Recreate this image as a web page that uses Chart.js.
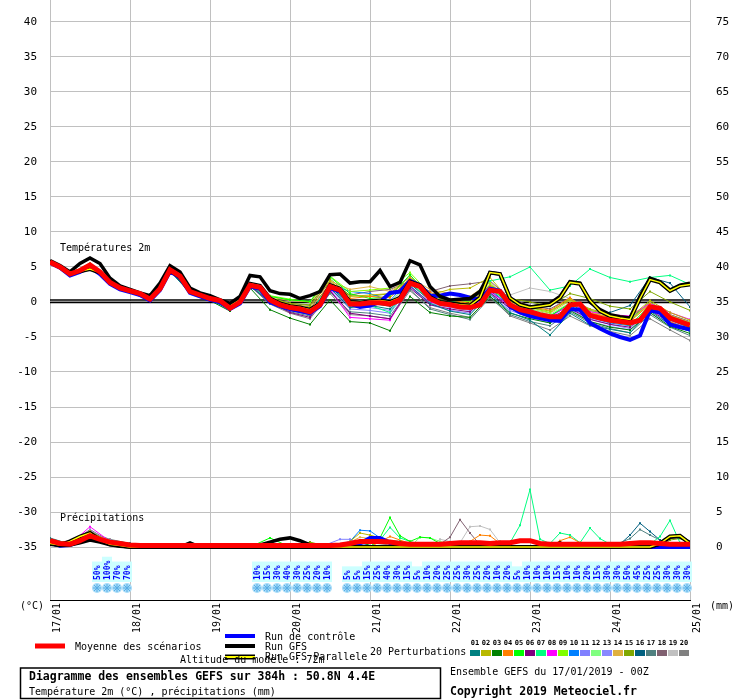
<!DOCTYPE html>
<html>
<head>
<meta charset="utf-8">
<script src="https://cdn.jsdelivr.net/npm/chart.js@4.4.0/dist/chart.umd.min.js"></script>
<style>
  html, body { margin: 0; padding: 0; background: #fff; }
  canvas { display: block; }
</style>
</head>
<body>
<canvas id="gefs" width="740" height="700"></canvas>
<script>
// tick labels
const dayLabels = ['17/01', '18/01', '19/01', '20/01', '21/01', '22/01', '23/01', '24/01', '25/01'];
const tempTicks = [-35, -30, -25, -20, -15, -10, -5, 0, 5, 10, 15, 20, 25, 30, 35, 40];
const precipTicks = [0, 5, 10, 15, 20, 25, 30, 35, 40, 45, 50, 55, 60, 65, 70, 75];

// 3-hourly runs (hour 0 .. 192)
const meanTemp = [5.7, 5.0, 4.0, 4.5, 5.3, 4.3, 2.8, 2.0, 1.6, 1.2,
  0.4, 1.9, 4.6, 3.7, 1.5, 1.0, 0.5, 0.2, -0.9, 0.0,
  2.4, 2.1, 0.3, -0.4, -0.8, -1.0, -1.4, -0.4, 2.2, 1.7,
  -0.3, -0.3, -0.1, -0.1, -0.3, 0.3, 2.7, 2.2, 0.5, -0.2,
  -0.4, -0.7, -0.8, -0.4, 1.7, 1.5, -0.4, -1.1, -1.4, -1.8,
  -2.1, -2.1, -0.4, -0.3, -1.9, -2.3, -2.6, -2.8, -3.0, -2.6,
  -0.7, -0.9, -2.3, -2.8, -3.3];
const gfsTemp = [5.9, 5.2, 4.3, 5.5, 6.3, 5.5, 3.4, 2.3, 1.8, 1.3,
  0.9, 2.7, 5.2, 4.3, 2.0, 1.3, 0.9, 0.3, -0.2, 0.8,
  3.8, 3.6, 1.6, 1.2, 1.1, 0.5, 0.9, 1.5, 3.9, 4.0,
  2.7, 2.9, 2.9, 4.5, 2.2, 2.8, 5.9, 5.3, 2.2, 0.8,
  0.3, 0.4, 0.5, 1.5, 4.2, 4.0, 0.5, -0.3, -0.7, -0.5,
  -0.2, 0.8, 2.9, 2.7, 0.0, -1.1, -1.8, -2.1, -2.3, 0.8,
  3.4, 2.9, 1.7, 2.4, 2.7];
const controlTemp = [5.6, 4.9, 3.8, 4.3, 5.0, 4.0, 2.6, 1.8, 1.4, 1.0,
  0.2, 1.7, 4.4, 3.5, 1.3, 0.8, 0.3, 0.0, -1.0, -0.2,
  2.2, 1.9, 0.0, -0.6, -1.0, -1.3, -1.6, -0.6, 2.0, 1.5,
  -0.3, -0.7, -0.5, 0.0, 1.3, 1.5, 3.0, 2.4, 0.9, 0.9,
  1.2, 1.0, 0.6, 0.4, 1.9, 1.6, -0.6, -1.5, -2.0, -2.3,
  -2.6, -2.7, -1.0, -1.1, -3.0, -3.8, -4.5, -5.0, -5.4, -4.8,
  -1.2, -1.5, -3.2, -3.6, -3.9];
const parallelTemp = [5.7, 5.0, 4.0, 4.4, 4.7, 4.2, 2.9, 2.1, 1.6, 1.2,
  0.5, 2.0, 4.5, 3.6, 1.5, 1.0, 0.5, 0.2, -0.6, 0.3,
  2.6, 2.3, 0.5, -0.2, -0.6, -0.8, -1.1, -0.2, 2.4, 1.9,
  0.0, -0.1, 0.1, 0.2, 0.0, 0.6, 2.9, 2.4, 0.7, 0.0,
  -0.2, -0.4, -0.5, 0.6, 4.2, 4.0, 0.6, -0.4, -0.8, -0.6,
  -0.4, 0.6, 2.8, 2.6, 0.2, -1.3, -2.0, -2.3, -2.5, 0.5,
  3.2, 2.8, 1.6, 2.3, 2.5];

const meanPrecip = [0.9, 0.5, 0.4, 0.9, 1.6, 1.1, 0.7, 0.5, 0.3, 0.2,
  0.2, 0.2, 0.2, 0.2, 0.2, 0.2, 0.2, 0.2, 0.2, 0.2,
  0.2, 0.2, 0.2, 0.2, 0.2, 0.2, 0.2, 0.2, 0.2, 0.3,
  0.5, 0.8, 0.8, 0.8, 0.7, 0.5, 0.4, 0.4, 0.4, 0.4,
  0.5, 0.6, 0.6, 0.6, 0.5, 0.6, 0.6, 0.9, 0.9, 0.5,
  0.4, 0.4, 0.4, 0.4, 0.4, 0.4, 0.4, 0.4, 0.5, 0.6,
  0.6, 0.5, 0.4, 0.4, 0.4];
const gfsPrecip = [0.4, 0.2, 0.3, 0.6, 1.0, 0.7, 0.3, 0.1, 0, 0,
  0, 0, 0, 0, 0.6, 0, 0, 0, 0, 0,
  0, 0.3, 0.7, 1.1, 1.3, 0.9, 0.3, 0, 0, 0,
  0, 0, 0, 0, 0, 0, 0, 0, 0, 0,
  0, 0, 0, 0, 0, 0, 0, 0, 0, 0,
  0, 0.6, 0, 0, 0, 0, 0, 0, 0, 0,
  0, 0.4, 1.4, 1.5, 0.6];
const controlPrecip = [0.6, 0.2, 0.3, 0.8, 1.4, 0.9, 0.5, 0.3, 0.1, 0,
  0, 0, 0, 0, 0, 0, 0, 0, 0, 0,
  0, 0, 0, 0, 0, 0, 0, 0, 0, 0,
  0, 0.5, 1.3, 1.3, 0.6, 0, 0, 0, 0, 0,
  0, 0, 0, 0, 0, 0, 0, 0, 0, 0,
  0, 0, 0, 0, 0, 0, 0, 0, 0, 0,
  0, 0, 0, 0, 0];
const parallelPrecip = [0.5, 0.3, 0.8, 1.5, 2.0, 1.0, 0.4, 0.2, 0, 0,
  0, 0, 0, 0, 0, 0, 0, 0, 0, 0,
  0, 0, 0, 0, 0, 0, 0, 0, 0, 0,
  0, 0, 0, 0, 0, 0, 0, 0, 0, 0,
  0, 0, 0, 0, 0, 0, 0, 0, 0, 0,
  0, 0, 0, 0, 0, 0, 0, 0, 0, 0,
  0, 0.5, 1.5, 1.6, 0.5];

// 20 perturbations, 6-hourly temperatures (hour 0 .. 192)
const tempP01 = [5.6,3.9,5.1,2.7,1.5,0.2,4.4,1.3,0.3,-1.1,2.3,0.0,-1.2,-1.8,2.0,-0.8,-0.5,-1.0,2.3,-0.2,-1.3,-1.8,1.2,-1.5,-2.6,-4.7,-1.6,-3.3,-3.9,-4.4,-1.3,-3.2,-4.2];
const tempP02 = [5.8,4.1,5.4,2.9,1.7,0.5,4.7,1.6,0.6,-0.6,2.6,0.6,-0.3,-0.7,3.0,0.8,1.0,1.2,3.2,1.0,1.8,2.0,3.5,0.2,-0.8,-1.3,0.3,-1.0,-1.8,-2.2,0.2,-1.5,-2.6];
const tempP03 = [5.7,4.0,5.2,2.6,1.4,0.2,4.5,1.3,0.2,-1.3,2.0,-1.1,-2.3,-3.2,0.3,-2.8,-3.0,-4.1,0.8,-1.5,-2.0,-2.2,0.8,-1.6,-2.4,-3.0,-1.2,-2.8,-3.6,-4.0,-1.5,-3.5,-4.5];
const tempP04 = [5.7,4.1,5.4,2.9,1.7,0.5,4.7,1.6,0.6,-0.8,2.5,0.5,-0.5,-1.0,2.6,0.5,0.8,0.6,3.4,1.4,0.3,-0.2,2.3,0.3,-0.6,-1.2,0.6,-1.6,-2.2,-2.8,-0.3,-2.8,-4.0];
const tempP05 = [5.8,4.0,5.5,2.9,1.7,0.5,4.8,1.7,0.7,-0.7,2.7,0.8,0.3,0.1,3.6,1.2,0.5,0.8,3.9,0.6,-0.2,-0.6,2.0,-0.3,-1.2,-2.0,-0.2,-2.0,-2.8,-3.3,-0.5,-2.5,-3.6];
const tempP06 = [5.6,3.9,5.2,2.7,1.5,0.3,4.5,1.4,0.4,-1.0,2.3,0.0,-1.5,-2.2,1.6,-1.6,-2.0,-2.4,2.0,-0.4,-1.0,-1.4,1.3,-0.9,-2.0,-2.6,-0.9,-2.5,-3.2,-3.6,-1.2,-2.9,-3.9];
const tempP07 = [5.7,4.0,5.3,2.8,1.6,0.4,4.6,1.5,0.5,-0.8,2.5,0.2,-1.0,-1.6,2.5,-0.5,-0.5,-1.5,2.8,0.2,0.0,0.5,3.0,3.6,5.0,1.7,2.3,4.7,3.5,2.9,3.5,3.8,2.5];
const tempP08 = [5.6,4.0,5.3,2.8,1.6,0.4,4.6,1.5,0.4,-1.0,2.3,0.1,-1.2,-1.8,1.8,-2.2,-2.4,-2.6,2.2,0.0,-0.6,-1.0,1.5,-0.6,-1.6,-2.2,-0.3,-1.4,-1.8,-2.0,-0.2,-1.5,-2.5];
const tempP09 = [5.8,4.1,5.5,3.0,1.8,0.6,4.8,1.7,0.7,-0.6,2.6,0.9,0.4,0.0,3.7,1.5,1.7,2.0,4.2,1.2,0.4,0.0,2.6,0.2,-0.8,-1.5,0.5,-1.2,-2.0,-2.6,0.0,-2.0,-3.0];
const tempP10 = [5.7,4.0,5.3,2.8,1.6,0.4,4.6,1.5,0.5,-0.9,2.4,0.5,-0.4,-0.9,2.5,1.5,1.2,0.2,3.3,0.6,-0.3,-0.8,1.8,-0.5,-1.4,-2.0,-0.5,-2.2,-3.0,-3.4,-0.9,-2.6,-3.7];
const tempP11 = [5.6,3.9,5.2,2.7,1.5,0.3,4.5,1.4,0.4,-1.0,2.3,0.2,-1.0,-1.8,1.8,-1.0,-1.2,-1.6,2.2,-0.4,-1.2,-1.6,1.0,-1.2,-2.2,-3.0,-1.0,-2.8,-3.5,-4.0,-1.6,-3.2,-4.2];
const tempP12 = [5.7,4.0,5.3,2.8,1.6,0.4,4.6,1.5,0.5,-0.9,2.4,0.4,-0.6,-1.0,2.4,0.0,0.3,0.0,2.9,0.4,-0.2,-0.6,2.0,-0.2,-1.0,-1.8,-0.1,-1.6,-2.3,-2.7,-0.4,-2.0,-3.0];
const tempP13 = [5.6,4.0,5.2,2.8,1.5,0.3,4.5,1.4,0.4,-1.0,2.3,0.0,-0.9,-1.5,2.0,-0.6,-0.8,-1.2,2.4,-0.2,-0.8,-1.2,1.4,-1.0,-1.8,-2.6,-0.8,-2.4,-3.2,-3.8,-1.0,-2.8,-3.8];
const tempP14 = [5.8,4.1,5.4,2.9,1.7,0.5,4.7,1.6,0.6,-0.7,2.6,0.7,0.2,0.0,3.0,1.8,2.2,1.5,3.5,1.8,1.2,0.8,2.8,0.0,-1.0,-1.6,0.2,-1.4,-2.2,-2.6,-0.2,-1.9,-2.9];
const tempP15 = [5.7,4.0,5.3,2.8,1.6,0.4,4.6,1.5,0.5,-0.8,2.5,0.6,-0.2,-0.4,3.3,0.9,0.8,1.2,3.6,0.8,0.2,-0.3,2.4,0.5,0.0,-0.6,1.2,0.5,-0.6,-1.0,1.5,0.0,-1.2];
const tempP16 = [5.7,4.0,5.3,2.8,1.6,0.4,4.6,1.5,0.5,-0.9,2.4,0.2,-0.8,-1.3,2.2,-0.4,-0.2,-0.6,2.6,0.2,-0.4,-0.9,1.6,-0.6,-1.6,-2.3,-0.8,-1.8,-1.5,-0.5,3.5,2.7,-0.7];
const tempP17 = [5.6,3.9,5.2,2.7,1.5,0.3,4.5,1.4,0.4,-1.0,2.3,-0.2,-1.4,-2.0,1.4,-1.4,-1.6,-2.0,1.8,-1.0,-1.8,-2.5,0.6,-1.8,-2.8,-3.4,-1.4,-3.0,-3.8,-4.4,-1.8,-3.6,-4.8];
const tempP18 = [5.7,4.0,5.3,2.8,1.6,0.4,4.6,1.5,0.5,-0.8,2.5,0.4,-0.2,-0.5,2.8,1.0,1.5,1.8,3.0,1.5,2.3,2.6,3.0,0.5,-0.5,-1.0,0.6,-1.2,-1.8,-2.4,0.0,-1.8,-2.8];
const tempP19 = [5.7,4.0,5.3,2.8,1.6,0.4,4.6,1.5,0.5,-0.9,2.4,0.3,-0.5,-1.0,2.4,0.0,0.2,-0.3,2.8,0.3,-0.2,-0.5,2.4,1.0,2.0,1.5,0.5,-1.0,-1.8,-2.2,-0.3,-1.8,-2.8];
const tempP20 = [5.6,3.9,5.2,2.7,1.5,0.3,4.5,1.4,0.4,-1.0,2.3,-0.3,-1.6,-2.4,1.2,-1.8,-2.0,-2.4,1.6,-0.8,-1.6,-2.2,0.8,-2.0,-3.0,-4.0,-2.0,-3.4,-4.2,-4.8,-2.4,-4.0,-5.5];

// perturbation precipitation, [hour, mm]
const precipP01 = [[0,1.2],[6,0.4],[12,1.8],[18,0.8],[24,0.4],[30,0],[90,0],[96,0.8],[102,0.5],[108,0],[192,0]];
const precipP02 = [[0,0.8],[6,0.6],[12,2.3],[18,0.6],[24,0.3],[30,0],[87,0],[90,0.8],[93,2.0],[96,1.7],[99,1.3],[105,0.5],[111,0],[192,0]];
const precipP03 = [[0,0.7],[6,0.3],[12,1.5],[18,0.7],[24,0.2],[30,0],[93,0],[99,1.0],[105,0.8],[111,0],[192,0]];
const precipP04 = [[0,0.9],[6,0.5],[12,2.0],[18,0.9],[24,0.4],[30,0],[96,0],[102,1.5],[108,0.5],[114,0],[123,0],[126,0.8],[129,1.7],[132,1.6],[135,0.5],[141,0],[150,0],[153,0.9],[156,1.4],[159,0.6],[165,0],[192,0]];
const precipP05 = [[0,1.0],[6,0.3],[12,1.7],[18,0.6],[24,0.3],[30,0],[60,0],[66,1.3],[72,0],[96,0],[99,1.3],[102,4.2],[105,1.6],[108,0.8],[111,1.4],[114,1.3],[117,0.5],[123,0],[192,0]];
const precipP06 = [[0,0.6],[6,0.4],[12,2.2],[18,0.7],[24,0.2],[30,0],[192,0]];
const precipP07 = [[0,0.8],[6,0.5],[12,1.6],[18,0.5],[24,0.3],[30,0],[96,0],[99,1.0],[102,2.8],[105,1.3],[108,0.8],[114,0],[132,0],[135,0.8],[138,0.6],[141,3.1],[144,8.2],[147,1.1],[150,0.5],[153,2.0],[156,1.7],[159,0.6],[162,2.7],[165,1.2],[168,0.4],[180,0.4],[183,1.5],[186,3.8],[189,0.6],[192,0.3]];
const precipP08 = [[0,0.7],[6,0.4],[12,2.9],[18,0.8],[24,0.3],[30,0],[192,0]];
const precipP09 = [[0,0.9],[6,0.6],[12,2.1],[18,0.7],[24,0.3],[30,0],[90,0],[93,1.0],[96,1.2],[102,0.6],[108,0],[192,0]];
const precipP10 = [[0,0.8],[6,0.3],[12,1.4],[18,0.8],[24,0.4],[30,0],[84,0],[90,0.8],[93,2.4],[96,2.3],[99,1.3],[105,0.5],[111,0],[192,0]];
const precipP11 = [[0,0.6],[6,0.4],[12,1.9],[18,1.0],[24,0.3],[30,0],[81,0],[87,1.1],[90,1.1],[93,0.5],[99,0],[192,0]];
const precipP12 = [[0,0.7],[6,0.5],[12,1.8],[18,0.6],[24,0.2],[30,0],[108,0],[111,1.4],[114,1.3],[117,0.8],[123,0],[192,0]];
const precipP13 = [[0,1.0],[6,0.4],[12,2.4],[18,0.7],[24,0.3],[30,0],[90,0],[96,0.9],[102,0.4],[108,0],[192,0]];
const precipP14 = [[0,0.9],[6,0.7],[12,2.2],[18,0.9],[24,0.4],[30,0],[87,0],[93,1.4],[96,1.2],[102,0.6],[108,0],[192,0]];
const precipP15 = [[0,0.8],[6,0.4],[12,1.7],[18,0.7],[24,0.3],[30,0],[72,0],[78,0.7],[84,0],[183,0],[186,1.0],[189,1.2],[192,0.8]];
const precipP16 = [[0,1.1],[6,0.3],[12,1.5],[18,0.9],[24,0.5],[30,0],[165,0],[171,0.4],[174,1.7],[177,3.4],[180,2.2],[183,1.0],[189,0],[192,0]];
const precipP17 = [[0,1.3],[6,0.4],[12,2.0],[18,1.0],[24,0.5],[30,0],[168,0],[174,1.2],[177,2.5],[180,1.7],[186,0.3],[192,0]];
const precipP18 = [[0,0.7],[6,0.5],[12,2.5],[18,0.8],[24,0.3],[30,0],[114,0],[117,0.4],[120,1.4],[123,3.9],[126,2.0],[129,0.3],[135,0],[192,0]];
const precipP19 = [[0,0.8],[6,0.4],[12,1.9],[18,0.6],[24,0.3],[30,0],[114,0],[117,1.1],[120,0.8],[123,0.6],[126,2.9],[129,3.0],[132,2.5],[135,0.6],[141,0],[192,0]];
const precipP20 = [[0,1.0],[6,0.3],[12,2.1],[18,1.1],[24,0.5],[30,0],[90,0],[96,0.6],[102,0.3],[108,0],[192,0]];

const memberColors = ['#008080', '#b8b800', '#008000', '#ff8000', '#00ff00', '#800080', '#00ff80', '#ff00ff', '#80ff00', '#0080ff',
  '#8080ff', '#80ff80', '#8888ff', '#e0b040', '#80a800', '#006080', '#508080', '#806070', '#c0c0c0', '#808080'];
const memberTemps = [tempP01, tempP02, tempP03, tempP04, tempP05, tempP06, tempP07, tempP08, tempP09, tempP10,
  tempP11, tempP12, tempP13, tempP14, tempP15, tempP16, tempP17, tempP18, tempP19, tempP20];
const memberPrecips = [precipP01, precipP02, precipP03, precipP04, precipP05, precipP06, precipP07, precipP08, precipP09, precipP10,
  precipP11, precipP12, precipP13, precipP14, precipP15, precipP16, precipP17, precipP18, precipP19, precipP20];

// snow probability labels (start hour, values every 3h)
const snowProbA = [50, 100, 70, 70];
const snowProbB = [10, 15, 30, 40, 30, 25, 20, 10];
const snowProbC = [5, 5, 15, 25, 40, 30, 15, 5, 10, 20, 25, 25, 30, 25, 20, 10, 20, 5, 10, 10,
  10, 15, 10, 10, 20, 15, 30, 30, 50, 45, 25, 25, 30, 30, 30];
const snowProbRuns = [[15, snowProbA], [63, snowProbB], [90, snowProbC]];

const FONT = 'DejaVu Sans Mono';
const series = (vals, step) => vals.map((v, i) => ({x: i * step, y: v}));
const pairs = list => list.map(([x, y]) => ({x, y}));

// lower order = drawn on top
const datasets = [];
function addLine(data, axis, color, width, order, pts) {
  datasets.push({
    data, yAxisID: axis, borderColor: color, borderWidth: width, order,
    pointRadius: pts ? 1.4 : 0, pointStyle: 'rect', pointBackgroundColor: color, pointBorderWidth: 0,
    tension: 0, fill: false
  });
}
[['y', meanTemp, parallelTemp, gfsTemp, controlTemp], ['y2', meanPrecip, parallelPrecip, gfsPrecip, controlPrecip]]
  .forEach(([axis, mean, par, gfs, ctl]) => {
    addLine(series(mean, 3), axis, '#ff0000', 5, 0);
    addLine(series(par, 3), axis, '#ffff00', 1.5, 1);
    addLine(series(par, 3), axis, '#000000', 4, 2);
    addLine(series(gfs, 3), axis, '#000000', 3.5, 3);
    addLine(series(ctl, 3), axis, '#0000ff', 4, 4);
  });
memberColors.forEach((c, i) => {
  addLine(series(memberTemps[i], 6), 'y', c, 1, 10 + i, true);
  addLine(pairs(memberPrecips[i]), 'y2', c, 1, 10 + i, true);
});

function text(ctx, str, x, y, font, color, align) {
  ctx.font = font;
  ctx.fillStyle = color || '#000';
  ctx.textAlign = align || 'left';
  ctx.textBaseline = 'middle';
  ctx.fillText(str, x, y);
}
function seg(ctx, x1, x2, y, color, w) {
  ctx.strokeStyle = color;
  ctx.lineWidth = w;
  ctx.beginPath();
  ctx.moveTo(x1, y);
  ctx.lineTo(x2, y);
  ctx.stroke();
}
// no extra room above/below the plot for half tick labels
const noPad = s => { s.paddingTop = 0; s.paddingBottom = 0; s.paddingLeft = 0; s.paddingRight = 0; };

const decor = {
  id: 'decor',
  beforeDatasetsDraw(chart) {
    const {ctx, chartArea: a, scales} = chart;
    const y0 = Math.round(scales.y.getPixelForValue(0));
    ctx.save();
    seg(ctx, a.left, a.right, y0 - 2, '#000', 1.3);
    seg(ctx, a.left, a.right, y0 + 0.5, '#000', 1.3);
    ctx.restore();
  },
  afterDraw(chart) {
    const {ctx, scales} = chart;
    ctx.save();
    text(ctx, 'Températures 2m', 60, 248, '10px ' + FONT);
    text(ctx, 'Précipitations', 60, 518, '10px ' + FONT);
    text(ctx, '(°C)', 20, 606, '10px ' + FONT);
    text(ctx, '(mm)', 710, 606, '10px ' + FONT);

    // snow probability strip
    snowProbRuns.forEach(([start, vals]) => {
      vals.forEach((v, i) => {
        const px = scales.x.getPixelForValue(start + i * 3) - 3;
        ctx.font = 'bold 8px ' + FONT;
        const w = ctx.measureText(v + '%').width;
        ctx.fillStyle = '#ccffff';
        ctx.fillRect(px - 5, 580 - w - 4, 10, w + 6);
      });
    });
    snowProbRuns.forEach(([start, vals]) => {
      vals.forEach((v, i) => {
        const px = scales.x.getPixelForValue(start + i * 3) - 3;
        ctx.save();
        ctx.translate(px, 580);
        ctx.rotate(-Math.PI / 2);
        text(ctx, v + '%', 0, 0.5, 'bold 8px ' + FONT, '#0000ff');
        ctx.restore();
        ctx.fillStyle = '#a8dcf8';
        ctx.beginPath();
        ctx.arc(px, 588, 5, 0, Math.PI * 2);
        ctx.fill();
        ctx.strokeStyle = '#58aee6';
        ctx.lineWidth = 1;
        ctx.beginPath();
        ctx.moveTo(px - 4, 588); ctx.lineTo(px + 4, 588);
        ctx.moveTo(px, 584); ctx.lineTo(px, 592);
        ctx.moveTo(px - 3, 585); ctx.lineTo(px + 3, 591);
        ctx.moveTo(px + 3, 585); ctx.lineTo(px - 3, 591);
        ctx.stroke();
      });
    });

    // legend
    seg(ctx, 35, 65, 646, '#ff0000', 5);
    text(ctx, 'Moyenne des scénarios', 75, 647, '10px ' + FONT);
    seg(ctx, 225, 255, 636, '#0000ff', 4);
    seg(ctx, 225, 255, 646, '#000000', 4);
    seg(ctx, 225, 255, 657, '#000000', 5);
    seg(ctx, 225, 255, 657, '#ffff00', 2);
    text(ctx, 'Altitude du modèle : 72m', 180, 660, '10px ' + FONT);
    text(ctx, 'Run de contrôle', 265, 637, '10px ' + FONT);
    text(ctx, 'Run GFS', 265, 647, '10px ' + FONT);
    text(ctx, 'Run GFS Parallele', 265, 657, '10px ' + FONT);
    text(ctx, '20 Perturbations', 370, 652, '10px ' + FONT);
    memberColors.forEach((c, i) => {
      const sx = 470 + i * 11;
      ctx.fillStyle = c;
      ctx.fillRect(sx, 650, 10, 6);
      text(ctx, String(i + 1).padStart(2, '0'), sx + 5, 643, 'bold 7px ' + FONT, '#000', 'center');
    });

    // title box
    ctx.strokeStyle = '#000';
    ctx.lineWidth = 1.5;
    ctx.strokeRect(20.5, 668, 420, 30.5);
    text(ctx, 'Diagramme des ensembles GEFS sur 384h : 50.8N 4.4E', 29, 677, 'bold 11.5px ' + FONT);
    text(ctx, 'Température 2m (°C) , précipitations (mm)', 29, 692, '10px ' + FONT);
    text(ctx, 'Ensemble GEFS du 17/01/2019 - 00Z', 450, 672, '10px ' + FONT);
    text(ctx, 'Copyright 2019 Meteociel.fr', 450, 692, 'bold 11.5px ' + FONT);
    ctx.restore();
  }
};

new Chart(document.getElementById('gefs'), {
  type: 'line',
  data: {datasets},
  plugins: [decor],
  options: {
    responsive: false,
    animation: false,
    events: [],
    layout: {padding: 0, autoPadding: false},
    plugins: {legend: {display: false}, tooltip: {enabled: false}},
    scales: {
      x: {
        type: 'linear', min: 0, max: 192,
        grid: {color: '#c0c0c0', drawTicks: false},
        border: {display: true, color: '#000', width: 1},
        ticks: {
          stepSize: 24, autoSkip: false, minRotation: 90, maxRotation: 90,
          labelOffset: 7.5, padding: 3, color: '#000', font: {family: FONT, size: 10},
          callback: v => dayLabels[v / 24] || ''
        },
        afterFit: s => { s.height = 100; noPad(s); }
      },
      y: {
        position: 'left', min: -42.57, max: 43.14,
        grid: {color: '#c0c0c0', drawTicks: false},
        border: {display: false},
        afterBuildTicks: s => { s.ticks = tempTicks.map(value => ({value})); },
        ticks: {padding: 13, color: '#000', font: {family: FONT, size: 11}},
        afterFit: s => { s.width = 50; noPad(s); }
      },
      y2: {
        position: 'right', min: -7.57, max: 78.14,
        grid: {display: false},
        border: {display: false},
        afterBuildTicks: s => { s.ticks = precipTicks.map(value => ({value})); },
        ticks: {padding: 18, color: '#000', font: {family: FONT, size: 11}},
        afterFit: s => { s.width = 50; noPad(s); }
      }
    }
  }
});
</script>
</body>
</html>
